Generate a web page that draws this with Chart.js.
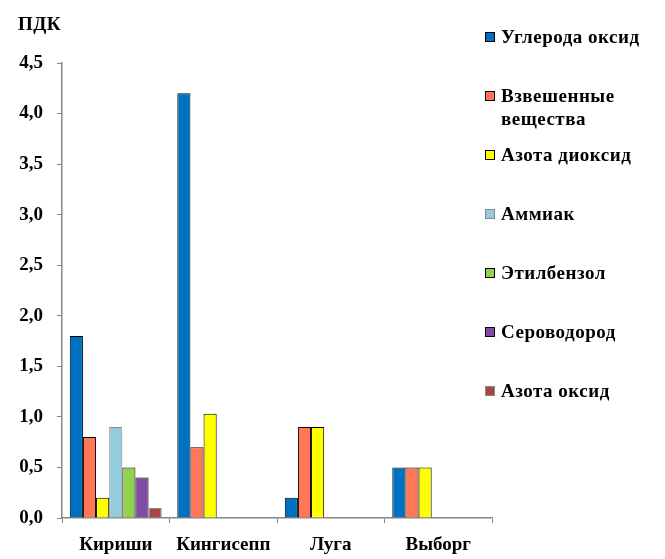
<!DOCTYPE html>
<html>
<head>
<meta charset="utf-8">
<script src="https://cdn.jsdelivr.net/npm/chart.js@4"></script>
<style>
  body { margin: 0; background: #fff; font-family: "Liberation Serif", "Times New Roman", serif; }
  #wrap { position: relative; width: 665px; height: 559px; }
  #title { position: absolute; left: 18px; top: 13px; font-weight: bold; font-size: 19px; letter-spacing: 0.5px; }
  #legend { position: absolute; left: 485px; top: 0; }
  .item { position: absolute; left: 0; width: 180px; font-weight: bold; font-size: 19px; line-height: 23px; letter-spacing: 0.5px; white-space: nowrap; }
  .box { position: absolute; left: 0; top: 7px; width: 8px; height: 8px; border: 1px solid #000; }
  .lbl { position: absolute; left: 16px; top: 0; }
</style>
</head>
<body>
<div id="wrap">
  <canvas id="pdkChart" width="665" height="559"></canvas>
  <div id="title">ПДК</div>
  <div id="legend"></div>
</div>
<script>
// cities on the x axis
const cities = ['Кириши', 'Кингисепп', 'Луга', 'Выборг'];

// substance names (legend), one series each
const substances = ['Углерода оксид', 'Взвешенные\nвещества', 'Азота диоксид', 'Аммиак', 'Этилбензол', 'Сероводород', 'Азота оксид'];

// values in ПДК share, per city
const carbonOxide   = [1.8, 4.2, 0.2, 0.5];
const suspended     = [0.8, 0.7, 0.9, 0.5];
const nitroDioxide  = [0.2, 1.03, 0.9, 0.5];
const ammonia       = [0.9, null, null, null];
const ethylbenzene  = [0.5, null, null, null];
const hydrogenSulf  = [0.4, null, null, null];
const nitroOxide    = [0.1, null, null, null];

const seriesValues = [carbonOxide, suspended, nitroDioxide, ammonia, ethylbenzene, hydrogenSulf, nitroOxide];
const fills   = ['#0070C0', '#FF7757', '#FFFF00', '#93CDDD', '#92D050', '#7F4BA6', '#AA4545'];
const borders = ['#000', '#000', '#000', '#8a8a8a', '#000', '#000', '#8a8a8a'];

// y axis ticks 0,0 .. 4,5
const yMin = 0, yMax = 4.5, yStep = 0.5;

const FONT = { family: '"Liberation Serif", "Times New Roman", serif', size: 19, weight: 'bold' };

const datasets = seriesValues.map((vals, i) => ({
  label: substances[i],
  data: vals,
  backgroundColor: fills[i],
  borderColor: borders[i],
  borderWidth: 1,
  categoryPercentage: 0.855,
  barPercentage: 1
}));

new Chart(document.getElementById('pdkChart'), {
  type: 'bar',
  data: { labels: cities, datasets },
  options: {
    responsive: false,
    animation: false,
    layout: { padding: { left: 0, right: 173, top: 63, bottom: 0 } },
    plugins: { legend: { display: false }, tooltip: { enabled: false } },
    scales: {
      x: {
        grid: { offset: true, drawOnChartArea: false, tickLength: 5, color: '#888' },
        border: { color: '#888', width: 1.5 },
        ticks: { color: '#000', font: FONT, padding: 11 },
        afterFit: s => { s.height = 41; }
      },
      y: {
        min: yMin, max: yMax,
        grid: { drawOnChartArea: false, tickLength: 5, color: '#888' },
        border: { color: '#888', width: 1.5 },
        ticks: {
          stepSize: yStep, color: '#000', font: FONT, padding: 14,
          callback: v => v.toFixed(1).replace('.', ',')
        },
        afterFit: s => { s.width = 62; }
      }
    }
  }
});

// legend drawn as html, same order as the series
const legend = document.getElementById('legend');
substances.forEach((name, i) => {
  const item = document.createElement('div');
  item.className = 'item';
  item.style.top = (25 + 59 * i) + 'px';
  const box = document.createElement('div');
  box.className = 'box';
  box.style.background = fills[i];
  box.style.borderColor = borders[i];
  const lbl = document.createElement('div');
  lbl.className = 'lbl';
  lbl.innerHTML = name.split('\n').join('<br>');
  item.appendChild(box);
  item.appendChild(lbl);
  legend.appendChild(item);
});
</script>
</body>
</html>
